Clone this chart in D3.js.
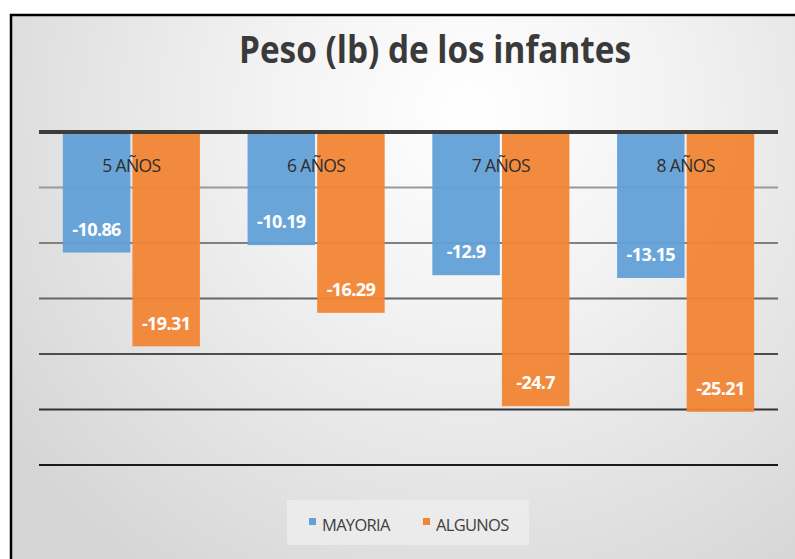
<!DOCTYPE html>
<html>
<head>
<meta charset="utf-8">
<script src="https://cdn.jsdelivr.net/npm/d3@7"></script>
<style>
  html, body { margin: 0; padding: 0; background: #fff; }
  svg { display: block; }
</style>
</head>
<body>
<div id="chart"></div>
<script>
// data
const categories = ["5 AÑOS", "6 AÑOS", "7 AÑOS", "8 AÑOS"]
const seriesNames = ["MAYORIA", "ALGUNOS"]
const mayoria = [-10.86, -10.19, -12.9, -13.15]
const algunos = [-19.31, -16.29, -24.7, -25.21]
const gridTicks = [0, -5, -10, -15, -20, -25, -30]
const seriesColors = ["#62a0d8", "#f28535"]

const W = 795, H = 559

const svg = d3.select("#chart").append("svg")
    .attr("width", W)
    .attr("height", H)

// background gradient
const defs = svg.append("defs")
const grad = defs.append("radialGradient")
    .attr("id", "bg")
    .attr("gradientUnits", "userSpaceOnUse")
    .attr("cx", 470).attr("cy", 110).attr("r", 560)
grad.append("stop").attr("offset", "0%").attr("stop-color", "#ffffff")
grad.append("stop").attr("offset", "35%").attr("stop-color", "#f3f3f3")
grad.append("stop").attr("offset", "100%").attr("stop-color", "#d6d6d6")

svg.append("rect")
    .attr("x", 11).attr("y", 15)
    .attr("width", W + 10).attr("height", H + 10)
    .attr("fill", "url(#bg)")
    .attr("stroke", "#000")
    .attr("stroke-width", 2.5)

// scales
const x0 = d3.scaleBand()
    .domain(categories)
    .range([39, 778])
    .paddingInner(0.258)
    .paddingOuter(0.129)

const x1 = d3.scaleBand()
    .domain(seriesNames)
    .range([0, x0.bandwidth()])
    .paddingInner(0.03)

const y = d3.scaleLinear()
    .domain([0, -30])
    .range([132, 465])

// gridlines (get darker towards the bottom)
const gridColors = d3.scaleLinear().domain([-5, -30]).range(["#999999", "#1a1a1a"])

svg.append("g")
    .selectAll("line")
    .data(gridTicks.filter(d => d !== 0))
    .enter().append("line")
    .attr("x1", 39).attr("x2", 778)
    .attr("y1", d => y(d)).attr("y2", d => y(d))
    .attr("stroke", d => gridColors(d))
    .attr("stroke-width", 2)

// bars
const rows = categories.map((c, i) => ({ cat: c, values: [mayoria[i], algunos[i]] }))

const groups = svg.append("g")
    .selectAll("g")
    .data(rows)
    .enter().append("g")
    .attr("transform", d => "translate(" + x0(d.cat) + ",0)")

groups.selectAll("rect")
    .data(d => d.values.map((v, j) => ({ name: seriesNames[j], value: v, idx: j })))
    .enter().append("rect")
    .attr("x", d => x1(d.name))
    .attr("width", x1.bandwidth())
    .attr("y", y(0))
    .attr("height", d => y(d.value) - y(0))
    .attr("fill", d => seriesColors[d.idx])
    .attr("fill-opacity", 0.95)

// value labels
groups.selectAll("text.val")
    .data(d => d.values.map((v, j) => ({ name: seriesNames[j], value: v })))
    .enter().append("text")
    .attr("class", "val")
    .attr("x", d => x1(d.name) + x1.bandwidth() / 2)
    .attr("y", d => y(d.value) - 23)
    .attr("dy", "0.35em")
    .attr("text-anchor", "middle")
    .attr("font-family", "'Open Sans', sans-serif")
    .attr("font-weight", "bold")
    .attr("font-size", 18)
    .attr("letter-spacing", -0.6)
    .attr("fill", "#fff")
    .text(d => d.value)

// zero line
svg.append("line")
    .attr("x1", 39).attr("x2", 778)
    .attr("y1", y(0)).attr("y2", y(0))
    .attr("stroke", "#3c3c3c")
    .attr("stroke-width", 4)

// category labels on top of bars
svg.append("g")
    .selectAll("text")
    .data(categories)
    .enter().append("text")
    .attr("x", d => x0(d) + x0.bandwidth() / 2)
    .attr("y", 166)
    .attr("dy", "0.35em")
    .attr("text-anchor", "middle")
    .attr("font-family", "'Open Sans', sans-serif")
    .attr("font-size", 17.5)
    .attr("letter-spacing", -0.6)
    .attr("fill", "#2e2e2e")
    .text(d => d)

// title
svg.append("text")
    .attr("x", 435)
    .attr("y", 63)
    .attr("text-anchor", "middle")
    .attr("font-family", "'Open Sans', sans-serif")
    .attr("font-weight", "bold")
    .attr("font-size", 37)
    .attr("textLength", 392)
    .attr("lengthAdjust", "spacingAndGlyphs")
    .attr("fill", "#3a3a3a")
    .text("Peso (lb) de los infantes")

// legend
const legend = svg.append("g")
legend.append("rect")
    .attr("x", 287).attr("y", 500)
    .attr("width", 242).attr("height", 45)
    .attr("fill", "#eeeeee")
    .attr("opacity", 0.8)

const legendX = [309, 423]
seriesNames.forEach((name, i) => {
    legend.append("rect")
        .attr("x", legendX[i]).attr("y", 518)
        .attr("width", 7).attr("height", 7)
        .attr("fill", seriesColors[i])
    legend.append("text")
        .attr("x", legendX[i] + 13)
        .attr("y", 525)
        .attr("dy", "0.35em")
        .attr("font-family", "'Open Sans', sans-serif")
        .attr("font-size", 16.5)
        .attr("letter-spacing", -0.7)
        .attr("fill", "#404040")
        .text(name)
})
</script>
</body>
</html>
